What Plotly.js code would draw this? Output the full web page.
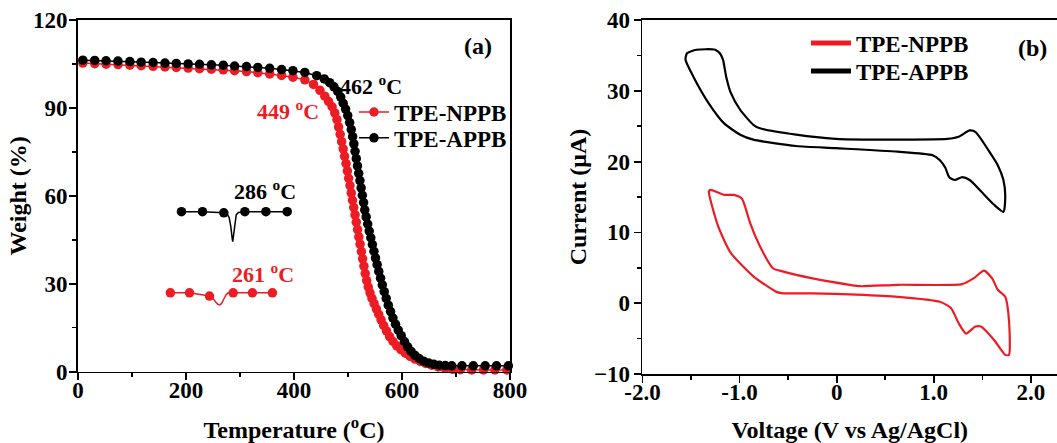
<!DOCTYPE html>
<html>
<head>
<meta charset="utf-8">
<script src="https://cdn.plot.ly/plotly-3.0.1.min.js"></script>
<style>
  html, body { margin: 0; padding: 0; background: #ffffff; }
  #chart { width: 1057px; height: 443px; }
</style>
</head>
<body>
<div id="chart"></div>
<script>
// ---------- (a) TGA: weight vs temperature ----------
const tgaNppbT = [9,31,52,74,96,117,139,161,182,204,225,247,269,290,312,333,355,377,398,420,
  436,448,457,464,470.5,475.5,479.5,482.5,485.5,488.2,491,493.7,496.3,498.8,501.2,503.6,506,508.3,
  510.6,513,515.3,517.7,520,522.4,524.8,527.1,529.5,531.9,534.5,537.5,540.8,544.4,548.3,552.5,556.8,
  561.2,566,571.2,577,583.3,590.3,598,606.3,615,624,634,644,655,667,680,694,708,729,751,772,794];
const tgaNppbW = [105.3,105.1,104.9,104.8,104.6,104.4,104.2,104.0,103.8,103.6,103.4,103.2,103.0,102.7,102.4,102.0,101.6,101.1,100.5,99.6,
  98.0,96.0,94.0,92.2,90.4,88.3,86.0,83.5,81.0,78.5,76.0,73.5,71.0,68.5,66.0,63.5,61.0,58.5,
  56.0,53.5,51.0,48.5,46.0,43.5,41.0,38.5,36.0,33.5,31.1,28.9,26.9,25.0,23.2,21.4,19.6,
  17.7,15.8,13.9,12.0,10.3,8.8,7.5,6.3,5.2,4.3,3.5,2.8,2.2,1.6,1.1,0.8,0.7,0.6,0.6,0.6,0.6];

const tgaAppbT = [9,31,52,74,96,117,139,161,182,204,225,247,269,290,312,333,355,377,398,420,
  442,456,466,474,481,486.5,491,495.5,499.5,503,506,508.5,510.8,513,515.3,517.5,519.8,522,524.3,
  526.5,528.8,531,533.6,536.4,539.3,542.2,545.1,548,550.9,553.9,557,560.2,563.5,567,570.7,574.6,
  578.8,583.2,587.9,593,598.5,604.4,610.4,616.8,623.8,631.5,640,649,659,669,680,692,711,732,754,775,797];
const tgaAppbW = [106.3,106.2,106.1,106.0,105.8,105.6,105.5,105.3,105.2,105.0,104.9,104.7,104.6,104.3,104.1,103.8,103.5,103.1,102.7,102.1,
  101.0,99.9,98.6,97.2,95.6,93.7,91.6,89.6,87.4,85.0,82.6,80.2,77.7,75.2,72.7,70.2,67.7,65.2,62.7,
  60.2,57.7,55.2,52.8,50.4,48.0,45.7,43.4,41.1,38.8,36.5,34.2,31.9,29.6,27.3,25.0,22.7,
  20.5,18.3,16.2,14.2,12.3,10.3,8.5,6.9,5.6,4.5,3.6,3.0,2.5,2.2,2.1,2.0,2.0,2.0,2.0,2.0,2.0];

// DSC traces drawn as insets in panel (a)
const dscAppbT = [191.6,230.5,270,276,280,283,285.5,286.5,288,290.5,293,297,309,348,387.4];
const dscAppbY = [54.6,54.6,54.2,53.9,52.5,49.5,45.5,44.4,46.5,51.0,53.5,54.3,54.6,54.6,54.6];
const dscAppbMarkT = [191.6,230.5,270,309,348,387.4];
const dscAppbMarkY = [54.6,54.6,54.2,54.6,54.6,54.6];

const dscNppbT = [171,206.5,243.5,250,255,259,262.5,266,270,274,278,287.3,323,360];
const dscNppbY = [26.9,26.9,25.8,25.0,23.8,23.0,22.8,23.3,24.8,26.2,26.9,26.9,26.9,26.9];
const dscNppbMarkT = [171,206.5,243.5,287.3,323,360];
const dscNppbMarkY = [26.9,26.9,25.8,26.9,26.9,26.9];

// ---------- (b) cyclic voltammograms ----------
const cvNppbV = [-1.300,-1.251,-1.155,-1.058,-0.977,-0.942,-0.891,-0.789,-0.654,-0.586,-0.247,0.133,0.240,0.631,
  1.294,1.410,1.518,1.602,1.660,1.737,1.775,1.775,1.737,1.622,1.487,1.429,1.333,1.256,1.179,1.064,
  0.631,0.203,-0.247,-0.552,-0.620,-0.858,-1.090,-1.219,-1.316,-1.300];
const cvNppbI = [16.0,15.8,15.3,15.3,14.8,13.6,11.3,8.0,4.9,4.6,3.5,2.6,2.4,2.6,
  2.7,3.5,4.6,3.5,1.9,0.9,-2.4,-7.3,-7.3,-5.2,-3.3,-3.3,-4.3,-2.8,-0.7,0.2,
  0.9,1.2,1.4,1.4,1.6,3.8,7.1,10.8,15.8,16.0];

const cvAppbV = [-1.541,-1.444,-1.251,-1.203,-1.171,-1.138,-1.090,-0.993,-0.858,-0.790,-0.417,-0.010,0.275,0.631,
  1.140,1.256,1.371,1.429,1.507,1.583,1.660,1.718,1.737,1.718,1.622,1.487,1.371,1.294,1.218,1.160,
  1.121,1.064,0.988,0.631,-0.010,-0.417,-0.858,-0.993,-1.159,-1.316,-1.476,-1.557,-1.541];
const cvAppbI = [35.3,35.8,35.8,35.3,34.4,32.0,29.7,27.3,25.2,24.7,23.8,23.2,23.1,23.1,
  23.2,23.5,24.4,24.2,22.8,21.2,19.5,17.4,15.1,12.9,13.9,15.8,17.4,17.8,17.4,17.8,
  19.1,20.2,20.9,21.4,21.9,22.2,23.1,23.8,25.4,28.2,32.0,34.4,35.3];

const cvTickVals = [-2, -1, 0, 1, 2];
const cvTickText = ['-2.0', '-1.0', '0', '1.0', '2.0'];

const RED = '#ed1c24';
const BLACK = '#000000';
const FONT = 'Liberation Serif, Times New Roman, serif';
const bold = (size, color) => ({ family: FONT, size: size, color: color || BLACK, weight: 'bold' });
const MK = 9.5;

const traces = [
  { x: tgaNppbT, y: tgaNppbW, type: 'scatter', mode: 'lines+markers', name: 'TPE-NPPB',
    line: { color: RED, width: 1.5 }, marker: { color: RED, size: MK },
    xaxis: 'x', yaxis: 'y', legend: 'legend', cliponaxis: false },
  { x: tgaAppbT, y: tgaAppbW, type: 'scatter', mode: 'lines+markers', name: 'TPE-APPB',
    line: { color: BLACK, width: 1.5 }, marker: { color: BLACK, size: MK },
    xaxis: 'x', yaxis: 'y', legend: 'legend3', cliponaxis: false },
  { x: dscAppbT, y: dscAppbY, type: 'scatter', mode: 'lines', showlegend: false,
    line: { color: BLACK, width: 1.5 }, xaxis: 'x', yaxis: 'y' },
  { x: dscAppbMarkT, y: dscAppbMarkY, type: 'scatter', mode: 'markers', showlegend: false,
    marker: { color: BLACK, size: MK }, xaxis: 'x', yaxis: 'y' },
  { x: dscNppbT, y: dscNppbY, type: 'scatter', mode: 'lines', showlegend: false,
    line: { color: RED, width: 1.5 }, xaxis: 'x', yaxis: 'y' },
  { x: dscNppbMarkT, y: dscNppbMarkY, type: 'scatter', mode: 'markers', showlegend: false,
    marker: { color: RED, size: MK }, xaxis: 'x', yaxis: 'y' },
  { x: cvNppbV, y: cvNppbI, type: 'scatter', mode: 'lines', name: 'TPE-NPPB',
    line: { color: RED, width: 2.2, shape: 'spline', smoothing: 0.6 },
    xaxis: 'x2', yaxis: 'y2', legend: 'legend2' },
  { x: cvAppbV, y: cvAppbI, type: 'scatter', mode: 'lines', name: 'TPE-APPB',
    line: { color: BLACK, width: 2.2, shape: 'spline', smoothing: 0.6 },
    xaxis: 'x2', yaxis: 'y2', legend: 'legend4' }
];

const axisCommon = {
  showline: true, linecolor: BLACK, linewidth: 1.8,
  ticks: 'outside', ticklen: 7, tickwidth: 1.8, tickcolor: BLACK,
  showgrid: false, zeroline: false, automargin: false,
  tickfont: bold(23)
};

// one legend box per entry so each row can be placed on its own
const legendBox = (x, y, sizing) => ({
  x: x, xanchor: 'left', y: y, yanchor: 'middle',
  bgcolor: 'rgba(0,0,0,0)', borderwidth: 0, font: bold(23),
  itemsizing: sizing, itemwidth: sizing === 'constant' ? 40 : 30
});

const layout = {
  width: 1057, height: 443,
  margin: { l: 78, r: 0, t: 20, b: 69 },
  paper_bgcolor: '#ffffff', plot_bgcolor: '#ffffff',
  font: { family: FONT, color: BLACK },
  xaxis: Object.assign({}, axisCommon, {
    domain: [0, 0.4413], range: [0, 800], tick0: 0, dtick: 200, mirror: true, anchor: 'y',
    ticklabelstandoff: -10,
    minor: { dtick: 100, ticks: 'outside', ticklen: 4, tickwidth: 1.5, tickcolor: BLACK },
    title: { text: 'Temperature (<sup>o</sup>C)', font: bold(24), standoff: 19 }
  }),
  yaxis: Object.assign({}, axisCommon, {
    domain: [0.0065, 1], range: [0, 120], tick0: 0, dtick: 30, mirror: true, anchor: 'x',
    ticklabelstandoff: -3,
    minor: { dtick: 15, ticks: 'outside', ticklen: 4, tickwidth: 1.5, tickcolor: BLACK },
    title: { text: 'Weight (%)', font: bold(24), standoff: 0 }
  }),
  xaxis2: Object.assign({}, axisCommon, {
    domain: [0.5766, 1], range: [-2, 2.27], tickmode: 'array', tickvals: cvTickVals, ticktext: cvTickText,
    mirror: true, anchor: 'y2', ticklabelstandoff: -10,
    minor: { tickvals: [-1.5, -0.5, 0.5, 1.5], ticks: 'outside', ticklen: 4, tickwidth: 1.5, tickcolor: BLACK },
    title: { text: 'Voltage (V vs Ag/AgCl)', font: bold(24), standoff: 32 }
  }),
  yaxis2: Object.assign({}, axisCommon, {
    domain: [0, 1], range: [-10, 40], tick0: 0, dtick: 10, mirror: false, anchor: 'x2',
    ticklabelstandoff: -1,
    minor: { dtick: 5, ticks: 'outside', ticklen: 4, tickwidth: 1.5, tickcolor: BLACK },
    title: { text: 'Current (μA)', font: bold(24), standoff: 0 }
  }),
  legend: legendBox(0.2819, 0.740, 'trace'),
  legend3: legendBox(0.2819, 0.667, 'trace'),
  legend2: legendBox(0.7436, 0.935, 'constant'),
  legend4: legendBox(0.7436, 0.856, 'constant'),
  annotations: [
    { x: 740, y: 111, xref: 'x', yref: 'y', text: '(a)', showarrow: false, font: bold(24) },
    { x: 542, y: 97.8, xref: 'x', yref: 'y', text: '462 <sup>o</sup>C', showarrow: false, font: bold(22) },
    { x: 389, y: 89.3, xref: 'x', yref: 'y', text: '449 <sup>o</sup>C', showarrow: false, font: bold(22, RED) },
    { x: 346, y: 62, xref: 'x', yref: 'y', text: '286 <sup>o</sup>C', showarrow: false, font: bold(22) },
    { x: 342, y: 33.7, xref: 'x', yref: 'y', text: '261 <sup>o</sup>C', showarrow: false, font: bold(22, RED) },
    { x: 2.02, y: 36.1, xref: 'x2', yref: 'y2', text: '(b)', showarrow: false, font: bold(24) }
  ],
  showlegend: true
};

Plotly.newPlot('chart', traces, layout, { displayModeBar: false, staticPlot: true });
</script>
</body>
</html>
